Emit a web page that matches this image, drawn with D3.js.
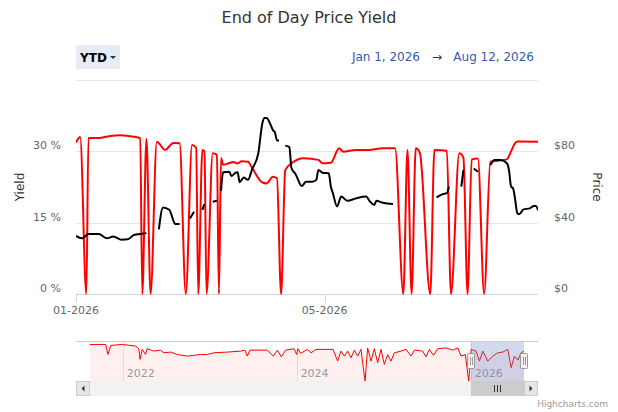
<!DOCTYPE html>
<html>
<head>
<meta charset="utf-8">
<script src="https://cdn.jsdelivr.net/npm/d3@7"></script>
<style>
  body { margin: 0; background: #fff; }
  svg { font-family: "DejaVu Sans", sans-serif; display: block; }
</style>
</head>
<body>
<div class="content"></div>
<script>
//--> Data
const priceSeries = [
  ["2026-01-01", 85], ["2026-01-03", 88], ["2026-01-06", 0], ["2026-01-07", 87.5],
  ["2026-01-12", 87.5], ["2026-01-17", 88.5], ["2026-01-22", 89], ["2026-01-27", 88.5],
  ["2026-02-01", 87.5], ["2026-02-02", 0], ["2026-02-04", 87], ["2026-02-06", 0],
  ["2026-02-09", 85.4], ["2026-02-13", 80.8], ["2026-02-17", 84.7], ["2026-02-20", 84.5],
  ["2026-02-23", 0], ["2026-02-26", 83.6], ["2026-02-28", 82], ["2026-03-01", 0],
  ["2026-03-03", 80.8], ["2026-03-04", 80], ["2026-03-05", 0], ["2026-03-08", 78.9],
  ["2026-03-10", 78], ["2026-03-11", 0], ["2026-03-12", 76.3], ["2026-03-13", 72.5],
  ["2026-03-15", 73], ["2026-03-18", 74], ["2026-03-20", 73.2], ["2026-03-22", 74.5],
  ["2026-03-25", 74.2], ["2026-03-27", 70.7], ["2026-04-01", 62.5], ["2026-04-03", 62],
  ["2026-04-06", 65.8], ["2026-04-08", 65], ["2026-04-10", 0], ["2026-04-12", 69.5],
  ["2026-04-15", 73.3], ["2026-04-21", 76.1], ["2026-04-28", 75.2], ["2026-04-30", 73.3],
  ["2026-05-04", 73.6], ["2026-05-08", 81.7], ["2026-05-10", 79.8], ["2026-05-16", 80.8],
  ["2026-05-23", 80.8], ["2026-05-29", 81.7], ["2026-06-04", 81.7], ["2026-06-08", 0],
  ["2026-06-10", 80.8], ["2026-06-12", 0], ["2026-06-14", 81.7], ["2026-06-16", 79],
  ["2026-06-21", 0], ["2026-06-23", 80.8], ["2026-06-29", 80.3], ["2026-07-01", 0],
  ["2026-07-05", 78.9], ["2026-07-07", 76.5], ["2026-07-09", 0], ["2026-07-11", 75.5],
  ["2026-07-14", 76], ["2026-07-17", 0], ["2026-07-20", 74.2], ["2026-07-24", 74.8],
  ["2026-07-28", 75.5], ["2026-07-30", 80], ["2026-08-01", 84.7], ["2026-08-02", 85.5],
  ["2026-08-12", 85.4]
];

const yieldSeries = [
  ["2026-01-01", 12.2], ["2026-01-04", 11.7], ["2026-01-07", 12.6], ["2026-01-12", 12.6],
  ["2026-01-16", 11.7], ["2026-01-19", 12.1], ["2026-01-23", 11.4], ["2026-01-26", 11.5],
  ["2026-01-29", 12.4], ["2026-02-01", 12.6], ["2026-02-04", 12.8], ["2026-02-06", null],
  ["2026-02-10", 13.6], ["2026-02-12", 18.2], ["2026-02-15", 17.7], ["2026-02-18", 14.7],
  ["2026-02-20", 14.7], ["2026-02-23", null],
  ["2026-02-25", 15.9], ["2026-02-27", 17.3], ["2026-03-01", null],
  ["2026-03-03", 17.7], ["2026-03-04", 18.9], ["2026-03-06", null],
  ["2026-03-08", 19.4], ["2026-03-10", 19.6], ["2026-03-11", null],
  ["2026-03-12", 21.7], ["2026-03-13", 25.6], ["2026-03-16", 25.7], ["2026-03-17", 24.8],
  ["2026-03-19", 25.5], ["2026-03-20", 25.6], ["2026-03-21", 23.5], ["2026-03-23", 24.5],
  ["2026-03-25", 24], ["2026-03-27", 26.2], ["2026-03-30", 29.6], ["2026-04-01", 36],
  ["2026-04-02", 37], ["2026-04-03", 37], ["2026-04-05", 35.5], ["2026-04-06", 34.5],
  ["2026-04-07", 34], ["2026-04-08", 32.3], ["2026-04-09", 32.3], ["2026-04-10", null],
  ["2026-04-12", 31.2], ["2026-04-14", 30.9], ["2026-04-15", 26.5], ["2026-04-17", 25.2],
  ["2026-04-20", 22.7], ["2026-04-22", 23.6], ["2026-04-25", 23.6], ["2026-04-27", 24],
  ["2026-04-28", 26.1], ["2026-04-30", 25.5], ["2026-05-03", 25.4], ["2026-05-04", 22.6],
  ["2026-05-05", 21.2], ["2026-05-07", 18.4], ["2026-05-09", 20.5], ["2026-05-12", 19.6],
  ["2026-05-16", 20.1], ["2026-05-21", 20.5], ["2026-05-23", 19.4], ["2026-05-25", 18.7],
  ["2026-05-26", 19.6], ["2026-05-29", 19.2], ["2026-06-03", 18.9], ["2026-06-05", null],
  ["2026-06-24", 20.3], ["2026-06-27", 21], ["2026-06-29", 21.2], ["2026-06-30", 22.6],
  ["2026-07-01", null],
  ["2026-07-06", 22.6], ["2026-07-07", 26.1], ["2026-07-09", null],
  ["2026-07-12", 26.4], ["2026-07-14", 25.7], ["2026-07-17", null],
  ["2026-07-20", 27.1], ["2026-07-22", 28.2], ["2026-07-25", 28.2], ["2026-07-28", 27.5],
  ["2026-07-29", 26], ["2026-07-30", 22.6], ["2026-07-31", 22.2], ["2026-08-01", 19.8],
  ["2026-08-02", 17], ["2026-08-03", 16.8], ["2026-08-05", 17.8], ["2026-08-08", 18],
  ["2026-08-10", 18.5], ["2026-08-11", 18.5], ["2026-08-12", 17.6]
];

// long history shown in the navigator (price)
const navigatorSeries = [
  ["2021-08-17", 100.5], ["2021-10-22", 100.5], ["2021-10-31", 73], ["2021-11-12", 98],
  ["2021-12-31", 100.5], ["2022-02-25", 96], ["2022-03-10", 88.8], ["2022-03-15", 59.4],
  ["2022-03-24", 87], ["2022-04-07", 73], ["2022-04-14", 88.8], ["2022-05-12", 82.2],
  ["2022-06-09", 84.9], ["2022-06-23", 77.6], ["2022-07-21", 79.5], ["2022-08-18", 73],
  ["2022-09-29", 68.5], ["2022-11-24", 73], ["2022-12-22", 73], ["2023-01-19", 77.6],
  ["2023-03-16", 79.5], ["2023-05-11", 82.2], ["2023-05-29", 84.9], ["2023-06-08", 68.5],
  ["2023-06-19", 84.9], ["2023-08-31", 84.9], ["2023-09-25", 68.5], ["2023-10-12", 84.9],
  ["2023-10-29", 66.6], ["2023-11-16", 84.9], ["2023-12-21", 88.8], ["2024-01-01", 73],
  ["2024-01-06", 88.8], ["2024-01-18", 76], ["2024-02-15", 87], ["2024-03-01", 77.6],
  ["2024-03-22", 87], ["2024-05-03", 87], ["2024-06-02", 87], ["2024-06-21", 54.8],
  ["2024-07-05", 82.2], ["2024-07-19", 68.5], ["2024-08-02", 82.2], ["2024-08-16", 63.9],
  ["2024-08-30", 84.9], ["2024-09-13", 68.5], ["2024-09-27", 87], ["2024-10-14", 0],
  ["2024-10-25", 91], ["2024-11-08", 54.8], ["2024-11-22", 88.8], ["2024-12-06", 50.2],
  ["2024-12-20", 87], ["2025-01-03", 45.7], ["2025-01-17", 73], ["2025-01-31", 54.8],
  ["2025-02-14", 77.6], ["2025-03-14", 82.2], ["2025-04-04", 87], ["2025-04-25", 68.5],
  ["2025-05-09", 84.9], ["2025-06-13", 82.2], ["2025-06-27", 66.6], ["2025-07-11", 87],
  ["2025-07-28", 70.8], ["2025-08-15", 88.8], ["2025-09-19", 91], ["2025-10-17", 84.9],
  ["2025-11-07", 91], ["2025-11-21", 68.5], ["2025-12-09", 73], ["2025-12-23", 0],
  ["2026-01-02", 87], ["2026-01-23", 82.2], ["2026-02-06", 54.8], ["2026-02-20", 82.2],
  ["2026-03-13", 54.8], ["2026-04-03", 68.5], ["2026-04-24", 77.6], ["2026-05-15", 79.5],
  ["2026-06-05", 87], ["2026-06-19", 36.5], ["2026-07-03", 68.5], ["2026-07-17", 57.5],
  ["2026-07-31", 77.6], ["2026-08-12", 82.2]
];

const yieldTicks = [0, 15, 30, 45];
const priceTicks = [0, 40, 80, 120];
const xTicks = ["2026-01-01", "2026-05-01"];
const navTicks = ["2022-01-01", "2024-01-01", "2026-01-01"];
const rangeStart = "2026-01-01";
const rangeEnd = "2026-08-12";

//--> Constants
const width = 618;
const height = 412;
const plot = { left: 76, right: 538, top: 80, bottom: 294 };
const nav = { left: 90, right: 524, top: 341, bottom: 381 };
const scrollH = 15;
const labelColor = "#666666";

const parseDate = d3.timeParse("%Y-%m-%d");
const fmtDay = d3.timeFormat("%b %-d, %Y");

const svg = d3
  .select(".content")
  .append("svg")
  .attr("width", width)
  .attr("height", height);

//--> Scales
const x = d3
  .scaleTime()
  .domain([parseDate(rangeStart), parseDate(rangeEnd)])
  .range([plot.left, plot.right]);

const yYield = d3.scaleLinear().domain([0, 45]).range([plot.bottom, plot.top]);
const yPrice = d3.scaleLinear().domain([0, 120]).range([plot.bottom, plot.top]);

const navX = d3
  .scaleTime()
  .domain([parseDate(navigatorSeries[0][0]), parseDate(rangeEnd)])
  .range([nav.left, nav.right]);
const navY = d3.scaleLinear().domain([0, 110]).range([nav.bottom, nav.top]);

//--> Title
svg
  .append("text")
  .attr("x", width / 2)
  .attr("y", 23)
  .attr("text-anchor", "middle")
  .attr("font-size", "16px")
  .attr("fill", "#333333")
  .text("End of Day Price Yield");

//--> Range selector button + date inputs
const btn = svg.append("g");
btn
  .append("rect")
  .attr("x", 76)
  .attr("y", 45)
  .attr("width", 44)
  .attr("height", 24)
  .attr("rx", 2)
  .attr("fill", "#e6ebf5");
btn
  .append("text")
  .attr("x", 80)
  .attr("y", 62)
  .attr("font-size", "12px")
  .attr("font-weight", "bold")
  .attr("fill", "#000")
  .text("YTD");
btn
  .append("path")
  .attr("d", "M110,56 L116,56 L113,59 Z")
  .attr("fill", "#333");

const dateInputs = svg
  .append("g")
  .attr("font-size", "12px")
  .attr("fill", "#335cad");
dateInputs
  .append("text")
  .attr("x", 420)
  .attr("y", 61)
  .attr("text-anchor", "end")
  .text(fmtDay(parseDate(rangeStart)));
dateInputs
  .append("text")
  .attr("x", 437)
  .attr("y", 61)
  .attr("text-anchor", "middle")
  .attr("fill", "#333")
  .text("\u2192");
dateInputs
  .append("text")
  .attr("x", 534)
  .attr("y", 61)
  .attr("text-anchor", "end")
  .text(fmtDay(parseDate(rangeEnd)));

//--> Grid lines
svg
  .append("g")
  .selectAll("line")
  .data(yieldTicks.filter(d => d > 0))
  .enter()
  .append("line")
  .attr("x1", plot.left)
  .attr("x2", plot.right)
  .attr("y1", d => Math.round(yYield(d)) + 0.5)
  .attr("y2", d => Math.round(yYield(d)) + 0.5)
  .attr("stroke", "#e6e6e6");

//--> X axis
svg
  .append("line")
  .attr("x1", plot.left)
  .attr("x2", plot.right)
  .attr("y1", plot.bottom + 0.5)
  .attr("y2", plot.bottom + 0.5)
  .attr("stroke", "#ccd6eb");

const xTick = svg
  .append("g")
  .selectAll("g")
  .data(xTicks.map(parseDate))
  .enter()
  .append("g");
xTick
  .append("line")
  .attr("x1", d => Math.round(x(d)) + 0.5)
  .attr("x2", d => Math.round(x(d)) + 0.5)
  .attr("y1", plot.bottom)
  .attr("y2", plot.bottom + 8)
  .attr("stroke", "#ccd6eb");
xTick
  .append("text")
  .attr("x", d => x(d))
  .attr("y", plot.bottom + 20)
  .attr("text-anchor", "middle")
  .attr("font-size", "11px")
  .attr("fill", labelColor)
  .text(d3.timeFormat("%m-%Y"));

//--> Y axes labels
svg
  .append("g")
  .selectAll("text")
  .data(yieldTicks.filter(d => d < 45))
  .enter()
  .append("text")
  .attr("x", 61)
  .attr("y", d => yYield(d) - 2)
  .attr("text-anchor", "end")
  .attr("font-size", "11px")
  .attr("fill", labelColor)
  .text(d => `${d} %`);

svg
  .append("g")
  .selectAll("text")
  .data(priceTicks.filter(d => d < 120))
  .enter()
  .append("text")
  .attr("x", 554)
  .attr("y", d => yPrice(d) - 2)
  .attr("font-size", "11px")
  .attr("fill", labelColor)
  .text(d => `$${d}`);

svg
  .append("text")
  .attr("transform", `translate(24, ${(plot.top + plot.bottom) / 2}) rotate(-90)`)
  .attr("text-anchor", "middle")
  .attr("font-size", "12px")
  .attr("fill", "#333333")
  .text("Yield");

svg
  .append("text")
  .attr("transform", `translate(593, ${(plot.top + plot.bottom) / 2}) rotate(90)`)
  .attr("text-anchor", "middle")
  .attr("font-size", "12px")
  .attr("fill", "#333333")
  .text("Price");

//--> Series
svg
  .append("clipPath")
  .attr("id", "plot-clip")
  .append("rect")
  .attr("x", plot.left)
  .attr("y", plot.top - 2)
  .attr("width", plot.right - plot.left)
  .attr("height", plot.bottom - plot.top + 4);

const priceLine = d3
  .line()
  .curve(d3.curveMonotoneX)
  .x(d => x(parseDate(d[0])))
  .y(d => yPrice(d[1]));

const yieldLine = d3
  .line()
  .defined(d => d[1] !== null)
  .curve(d3.curveMonotoneX)
  .x(d => x(parseDate(d[0])))
  .y(d => yYield(d[1]));

const series = svg.append("g").attr("clip-path", "url(#plot-clip)");

series
  .append("path")
  .datum(priceSeries)
  .attr("d", priceLine)
  .attr("fill", "none")
  .attr("stroke", "#ff0000")
  .attr("stroke-width", 2)
  .attr("stroke-linejoin", "round");

series
  .append("path")
  .datum(yieldSeries)
  .attr("d", yieldLine)
  .attr("fill", "none")
  .attr("stroke", "#000000")
  .attr("stroke-width", 2)
  .attr("stroke-linejoin", "round");

//--> Navigator
const navG = svg.append("g");

navG
  .selectAll("line.nav-grid")
  .data(navTicks.map(parseDate))
  .enter()
  .append("line")
  .attr("x1", d => Math.round(navX(d)) + 0.5)
  .attr("x2", d => Math.round(navX(d)) + 0.5)
  .attr("y1", nav.top)
  .attr("y2", nav.bottom)
  .attr("stroke", "#e6e6e6");

const navArea = d3
  .area()
  .x(d => navX(parseDate(d[0])))
  .y0(nav.bottom)
  .y1(d => navY(d[1]));

navG
  .append("path")
  .datum(navigatorSeries)
  .attr("d", navArea)
  .attr("fill", "rgba(255,0,0,0.06)");

navG
  .append("path")
  .datum(navigatorSeries)
  .attr(
    "d",
    d3
      .line()
      .x(d => navX(parseDate(d[0])))
      .y(d => navY(d[1]))
  )
  .attr("fill", "none")
  .attr("stroke", "#ff0000")
  .attr("stroke-width", 1);

navG
  .selectAll("text")
  .data(navTicks.map(parseDate))
  .enter()
  .append("text")
  .attr("x", d => navX(d) + 4)
  .attr("y", 377)
  .attr("font-size", "11px")
  .attr("fill", "#999999")
  .text(d3.timeFormat("%Y"));

const maskLeft = navX(parseDate(rangeStart));
navG
  .append("rect")
  .attr("x", maskLeft)
  .attr("y", nav.top)
  .attr("width", nav.right - maskLeft)
  .attr("height", nav.bottom - nav.top)
  .attr("fill", "rgba(102,133,194,0.3)");

navG
  .append("line")
  .attr("x1", plot.left)
  .attr("x2", plot.right)
  .attr("y1", nav.top + 0.5)
  .attr("y2", nav.top + 0.5)
  .attr("stroke", "#cccccc");

//--> Scrollbar
const sb = svg.append("g");
sb.append("rect")
  .attr("x", plot.left)
  .attr("y", nav.bottom)
  .attr("width", plot.right - plot.left)
  .attr("height", scrollH)
  .attr("fill", "#f2f2f2");
[plot.left, nav.right].forEach((bx, i) => {
  sb.append("rect")
    .attr("x", bx + 0.5)
    .attr("y", nav.bottom + 0.5)
    .attr("width", 13)
    .attr("height", scrollH - 1)
    .attr("fill", "#e6e6e6")
    .attr("stroke", "#cccccc");
  const cx = bx + 7;
  const cy = nav.bottom + scrollH / 2;
  sb.append("path")
    .attr(
      "d",
      i === 0
        ? `M${cx + 1.5},${cy - 3} L${cx + 1.5},${cy + 3} L${cx - 1.5},${cy} Z`
        : `M${cx - 1.5},${cy - 3} L${cx - 1.5},${cy + 3} L${cx + 1.5},${cy} Z`
    )
    .attr("fill", "#333");
});
sb.append("rect")
  .attr("x", maskLeft)
  .attr("y", nav.bottom)
  .attr("width", nav.right - maskLeft)
  .attr("height", scrollH)
  .attr("fill", "#cccccc");
const gripX = (maskLeft + nav.right) / 2;
[-3, 0, 3].forEach(dx => {
  sb.append("line")
    .attr("x1", Math.round(gripX + dx) + 0.5)
    .attr("x2", Math.round(gripX + dx) + 0.5)
    .attr("y1", nav.bottom + 4)
    .attr("y2", nav.bottom + 11)
    .attr("stroke", "#333");
});

//--> Navigator handles
[maskLeft, nav.right].forEach(hx => {
  const hxr = Math.round(hx);
  svg
    .append("rect")
    .attr("x", hxr - 3.5)
    .attr("y", 353.5)
    .attr("width", 7)
    .attr("height", 15)
    .attr("rx", 1)
    .attr("fill", "#f2f2f2")
    .attr("stroke", "#999999");
  [-1, 1].forEach(dx => {
    svg
      .append("line")
      .attr("x1", hxr + dx + 0.5)
      .attr("x2", hxr + dx + 0.5)
      .attr("y1", 357)
      .attr("y2", 365)
      .attr("stroke", "#999999");
  });
});

//--> Credits
svg
  .append("text")
  .attr("x", 608)
  .attr("y", 407)
  .attr("text-anchor", "end")
  .attr("font-size", "9px")
  .attr("fill", "#999999")
  .text("Highcharts.com");
</script>
</body>
</html>
